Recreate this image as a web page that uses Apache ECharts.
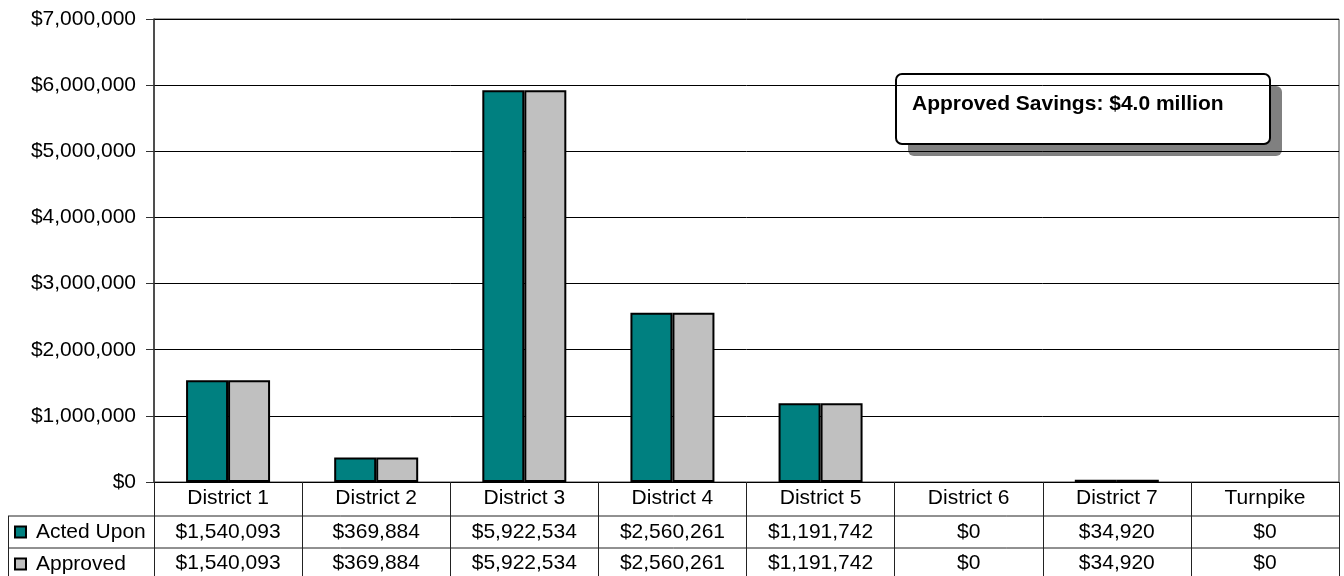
<!DOCTYPE html>
<html>
<head>
<meta charset="utf-8">
<script src="https://cdn.jsdelivr.net/npm/echarts@6/dist/echarts.min.js"></script>
<style>
  html, body { margin: 0; padding: 0; background: #fff; }
  #chart { width: 1344px; height: 576px; }
</style>
</head>
<body>
<div id="chart"></div>
<script>
// Savings by district: acted-upon vs approved amounts
const districts = ['District 1', 'District 2', 'District 3', 'District 4', 'District 5', 'District 6', 'District 7', 'Turnpike'];
const actedUpon = [1540093, 369884, 5922534, 2560261, 1191742, 0, 34920, 0];
const approved = [1540093, 369884, 5922534, 2560261, 1191742, 0, 34920, 0];
const yTicks = { min: 0, max: 7000000, interval: 1000000 };
const noteText = 'Approved Savings: $4.0 million';

const FONT = "'Liberation Sans', Arial, sans-serif";
const FS = 21;
const money = v => '$' + Math.round(v).toLocaleString('en-US');

// zero-valued bars get no outline so nothing is drawn for them
const barData = arr => arr.map(v => v === 0 ? { value: v, itemStyle: { borderWidth: 0 } } : v);

const chart = echarts.init(document.getElementById('chart'), null, { renderer: 'canvas' });

const tableLine = { stroke: '#222', lineWidth: 1 };

chart.setOption({
  animation: false,
  backgroundColor: '#fff',
  textStyle: { fontFamily: FONT },
  grid: {
    left: 154, right: 5, top: 19, bottom: 94,
    show: true, borderColor: '#444', borderWidth: 1, containLabel: false
  },
  legend: {
    orient: 'vertical',
    left: 14, top: 521,
    padding: 0,
    itemWidth: 11, itemHeight: 11,
    itemGap: 10,
    icon: 'rect',
    textStyle: { fontFamily: FONT, fontSize: FS, color: '#000', lineHeight: 22, padding: [0, 0, 0, 5] },
    data: ['Acted Upon', 'Approved']
  },
  xAxis: [
    {
      type: 'category', data: districts, position: 'bottom',
      axisLine: { show: true, lineStyle: { color: '#000', width: 1 } },
      axisTick: { show: true, interval: 0, length: 94, lineStyle: { color: '#222', width: 1 } },
      axisLabel: { interval: 0, margin: 6, fontFamily: FONT, fontSize: FS, color: '#000' }
    },
    {
      type: 'category', data: districts, position: 'bottom', offset: 34,
      axisLine: { show: false }, axisTick: { show: false },
      axisLabel: { interval: 0, margin: 6, fontFamily: FONT, fontSize: FS, color: '#000',
        formatter: (v, i) => money(actedUpon[i]) }
    },
    {
      type: 'category', data: districts, position: 'bottom', offset: 66,
      axisLine: { show: false }, axisTick: { show: false },
      axisLabel: { interval: 0, margin: 5, fontFamily: FONT, fontSize: FS, color: '#000',
        formatter: (v, i) => money(approved[i]) }
    }
  ],
  yAxis: {
    type: 'value', min: yTicks.min, max: yTicks.max, interval: yTicks.interval,
    axisLine: { show: true, lineStyle: { color: '#333', width: 1.5 } },
    axisTick: { show: true, length: 8, lineStyle: { color: '#333' } },
    axisLabel: { margin: 18, fontFamily: FONT, fontSize: FS, color: '#000', formatter: money },
    splitLine: { show: true, lineStyle: { color: '#000', width: 1 } }
  },
  series: [
    {
      name: 'Acted Upon', type: 'bar', xAxisIndex: 0, data: barData(actedUpon),
      barWidth: 42, barGap: '0%',
      itemStyle: { color: '#008080', borderColor: '#000', borderWidth: 2 }
    },
    {
      name: 'Approved', type: 'bar', xAxisIndex: 0, data: barData(approved),
      barWidth: 42, barGap: '0%',
      itemStyle: { color: '#C0C0C0', borderColor: '#000', borderWidth: 2 }
    }
  ],
  graphic: [
    // data table rules
    { type: 'line', shape: { x1: 8, y1: 516, x2: 1339, y2: 516 }, style: tableLine, silent: true },
    { type: 'line', shape: { x1: 8, y1: 548, x2: 1339, y2: 548 }, style: tableLine, silent: true },
    { type: 'line', shape: { x1: 8.5, y1: 516, x2: 8.5, y2: 576 }, style: tableLine, silent: true },
    // callout box with drop shadow
    {
      type: 'group', left: 895, top: 73,
      children: [
        { type: 'rect', shape: { x: 12, y: 12, width: 374, height: 70, r: 6 }, style: { fill: '#808080' } },
        { type: 'rect', shape: { x: 0, y: 0, width: 374, height: 70, r: 6 }, style: { fill: '#fff', stroke: '#000', lineWidth: 2 } },
        { type: 'text', x: 16, y: 30, style: { text: noteText, fontFamily: FONT, fontSize: FS, fontWeight: 'bold', fill: '#000', verticalAlign: 'middle' } }
      ]
    }
  ]
});
</script>
</body>
</html>
